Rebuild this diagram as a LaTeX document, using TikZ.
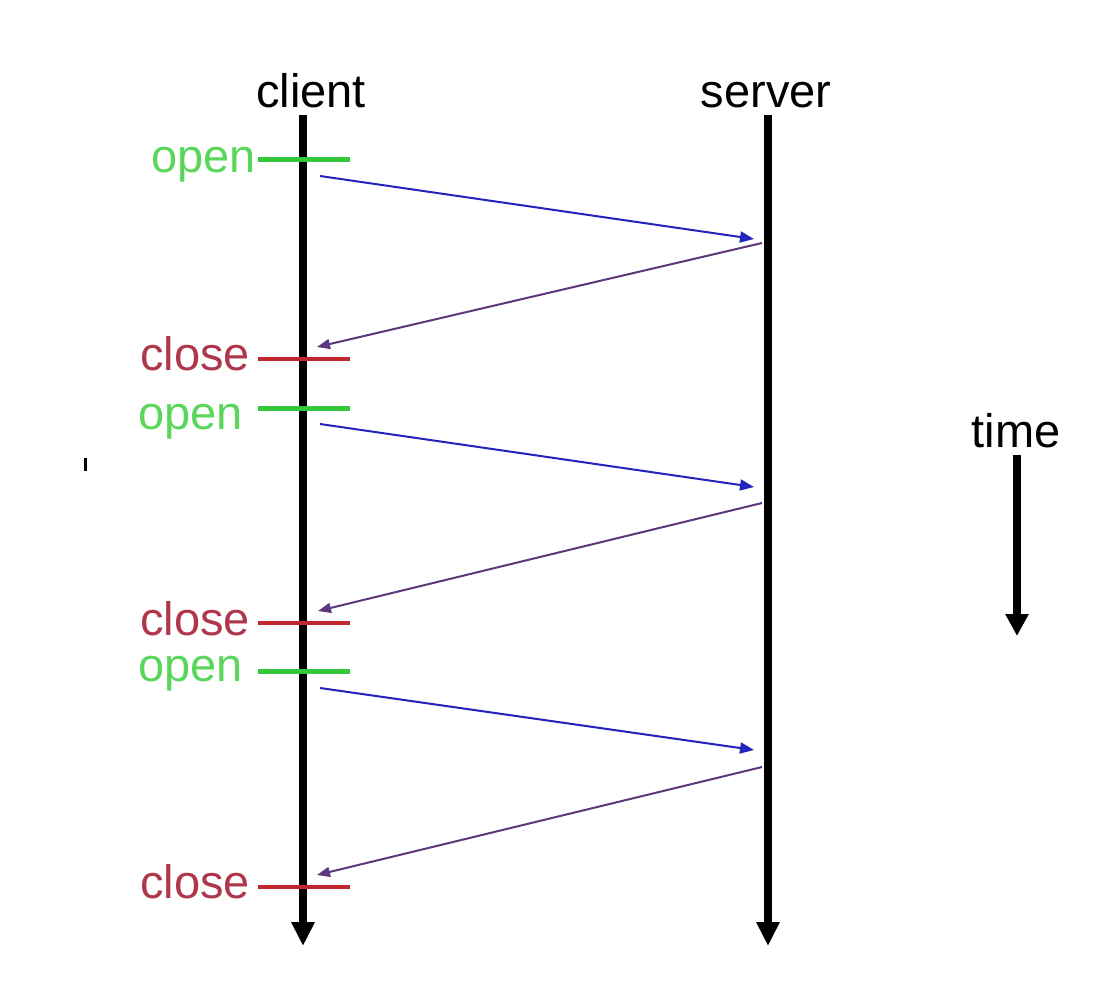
\documentclass[tikz,border=0pt]{standalone}
\usepackage{fontspec}
\setmainfont{Liberation Sans}
\usetikzlibrary{arrows.meta}
\definecolor{openline}{RGB}{50,200,60}
\definecolor{opentext}{RGB}{90,215,90}
\definecolor{closeline}{RGB}{190,40,45}
\definecolor{closetext}{RGB}{175,55,75}
\definecolor{reqblue}{RGB}{35,35,190}
\definecolor{resppurple}{RGB}{95,55,125}
\begin{document}
\begin{tikzpicture}[x=1pt,y=-1pt,
  lifeline/.style={line width=8pt,-{Triangle[length=24pt,width=22pt]}},
  headtext/.style={font=\fontsize{47}{47}\selectfont,inner sep=0pt,anchor=base},
  evtext/.style={font=\fontsize{47}{47}\selectfont,inner sep=0pt,anchor=base east},
  opentick/.style={openline,line width=5pt},
  closetick/.style={closeline,line width=4pt},
  request/.style={reqblue,line width=2pt,-{Triangle[length=14pt,width=11pt]}},
  response/.style={resppurple,line width=2pt,-{Triangle[length=13pt,width=10pt]}}]
\useasboundingbox (0,0) rectangle (1094,1006);
\fill[white] (0,0) rectangle (1094,1006);

% participants
\node[headtext] (client) at (311,108) {client};
\node[headtext] (server) at (766,108) {server};
\coordinate (ctop) at (303,115);
\coordinate (cbot) at (303,946);
\coordinate (stop) at (768,115);
\coordinate (sbot) at (768,946);
\draw[lifeline] (ctop) -- (cbot);
\draw[lifeline] (stop) -- (sbot);

% open / close events on the client
\node[evtext,opentext]  (o1) at (256,172) {open};
\node[evtext,closetext] (c1) at (250,370) {close};
\node[evtext,opentext]  (o2) at (243,429) {open};
\node[evtext,closetext] (c2) at (250,635) {close};
\node[evtext,opentext]  (o3) at (243,681) {open};
\node[evtext,closetext] (c3) at (250,898) {close};

\coordinate (o1s) at (258,159); \coordinate (o1e) at (350,159);
\coordinate (c1s) at (258,359); \coordinate (c1e) at (350,359);
\coordinate (o2s) at (258,408); \coordinate (o2e) at (350,408);
\coordinate (c2s) at (258,623); \coordinate (c2e) at (350,623);
\coordinate (o3s) at (258,671); \coordinate (o3e) at (350,671);
\coordinate (c3s) at (258,887); \coordinate (c3e) at (350,887);
\draw[opentick]  (o1s) -- (o1e);
\draw[closetick] (c1s) -- (c1e);
\draw[opentick]  (o2s) -- (o2e);
\draw[closetick] (c2s) -- (c2e);
\draw[opentick]  (o3s) -- (o3e);
\draw[closetick] (c3s) -- (c3e);

% messages
\coordinate (q1s) at (320,176); \coordinate (q1e) at (754,239);
\coordinate (r1s) at (762,243); \coordinate (r1e) at (317,347);
\coordinate (q2s) at (320,424); \coordinate (q2e) at (754,487);
\coordinate (r2s) at (762,503); \coordinate (r2e) at (318,611);
\coordinate (q3s) at (320,688); \coordinate (q3e) at (754,750);
\coordinate (r3s) at (762,767); \coordinate (r3e) at (317,875);
\draw[request]  (q1s) -- (q1e);
\draw[response] (r1s) -- (r1e);
\draw[request]  (q2s) -- (q2e);
\draw[response] (r2s) -- (r2e);
\draw[request]  (q3s) -- (q3e);
\draw[response] (r3s) -- (r3e);

% time axis
\node[headtext] (time) at (1016,447) {time};
\coordinate (ttop) at (1017,455);
\coordinate (tbot) at (1017,636);
\draw[line width=8pt,-{Triangle[length=22pt,width=22pt]}] (ttop) -- (tbot);

% stray tick on the left margin
\draw[line width=3pt] (85,458) -- (85,471);
\end{tikzpicture}
\end{document}
